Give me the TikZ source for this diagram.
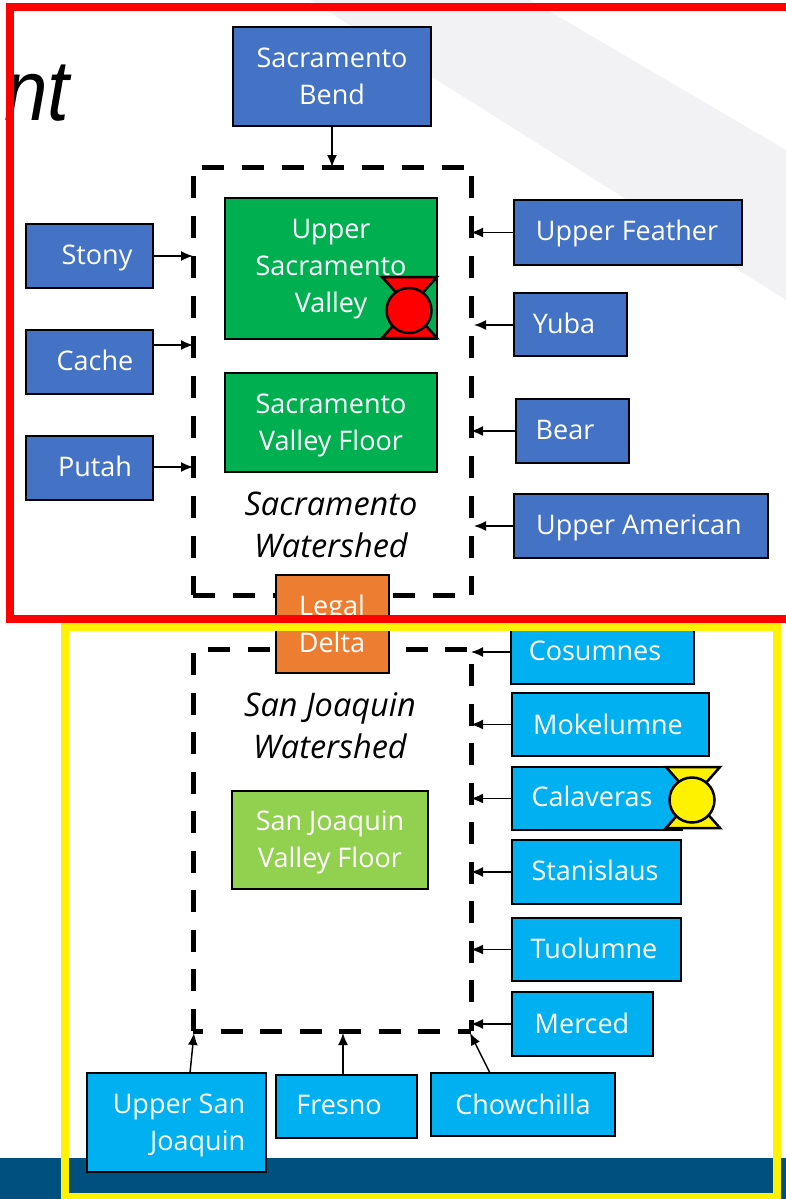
\documentclass[tikz,border=0pt]{standalone}
\usepackage{fontspec}
\setmainfont{Open Sans}
\newfontfamily\arialfont{Liberation Sans}
\usetikzlibrary{arrows.meta,calc}
\definecolor{boxblue}{HTML}{4472C4}
\definecolor{boxgreen}{HTML}{00B050}
\definecolor{boxlime}{HTML}{92D050}
\definecolor{boxorange}{HTML}{ED7D31}
\definecolor{boxcyan}{HTML}{00B0F0}
\definecolor{bandgrey}{HTML}{F2F2F4}
\definecolor{footblue}{HTML}{00507F}
\tikzset{
  flowbox/.style={draw=black,line width=1.8pt,inner sep=0pt,outer sep=0pt},
  boxtext/.style={text=white,font=\fontsize{27}{37}\selectfont,inner sep=0pt,align=center},
  wslabel/.style={text=black,font=\fontsize{32.5}{42}\selectfont\itshape,inner sep=0pt,align=center},
  arr/.style={draw=black,line width=1.5pt,-{Latex[length=12pt,width=10pt]},shorten >=0pt},
  wsedge/.style={draw=black,line width=5pt},
  hole/.style={inner sep=0pt,outer sep=0pt},
  frame/.style={line width=8pt,miter limit=10},
  bow/.style={draw=black,line width=2.5pt,line join=miter},
}
% name, x1, y1, x2, y2, fill, text x, text y, text
\newcommand{\bx}[9]{%
  \node[flowbox,fill=#6,minimum width=#4pt-#2pt,minimum height=#5pt-#3pt] (#1) at ({(#2+#4)/2},{(#3+#5)/2}) {};
  \node[boxtext] (#1-t) at (#7,#8) {#9};
}
\begin{document}
\begin{tikzpicture}[x=1pt,y=-1pt]
\useasboundingbox (0,0) rectangle (786,1199);
\fill[white] (0,0) rectangle (786,1199);
\fill[bandgrey] (310,0) -- (530,0) -- (786,150) -- (786,300) -- cycle;
\fill[footblue] (0,1158) rectangle (786,1199);
\node[inner sep=0pt,anchor=base west,font=\arialfont\itshape\fontsize{86}{86}\selectfont,text=black] (title) at (4,120) {\scalebox{.91}[1]{nt}};

\bx{bend}{233}{27}{431}{126}{boxblue}{332}{76.5}{Sacramento\\Bend}
\bx{usv}{225}{198}{437}{339}{boxgreen}{331}{269}{Upper\\Sacramento\\Valley}
\bx{svf}{225}{373}{437}{472}{boxgreen}{331}{425.5}{Sacramento\\Valley Floor}
\bx{stony}{26}{224}{153}{288}{boxblue}{97}{258}{Stony}
\bx{cache}{26}{330}{153}{394}{boxblue}{95}{360}{Cache}
\bx{putah}{26}{436}{153}{500}{boxblue}{95}{466}{Putah}
\bx{feather}{514}{200}{742}{265}{boxblue}{627}{233}{Upper Feather}
\bx{yuba}{514}{293}{627}{356}{boxblue}{564}{323}{Yuba}
\bx{bear}{516}{399}{629}{463}{boxblue}{565}{430}{Bear}
\bx{american}{514}{494}{768}{558}{boxblue}{639}{528}{Upper American}
\bx{cosumnes}{511}{620}{694}{684}{boxcyan}{595}{651}{Cosumnes}
\bx{mokelumne}{512}{693}{709}{756}{boxcyan}{608}{724}{Mokelumne}
\bx{calaveras}{512}{767}{682}{830}{boxcyan}{592}{796}{Calaveras}
\bx{stanislaus}{512}{840}{681}{904}{boxcyan}{595}{870}{Stanislaus}
\bx{tuolumne}{512}{918}{681}{981}{boxcyan}{594}{948}{Tuolumne}
\bx{merced}{512}{992}{653}{1056}{boxcyan}{582}{1023}{Merced}
\bx{usj}{87}{1073}{266}{1172}{boxcyan}{179}{1125.5}{Upper San\\\hfill Joaquin}
\bx{fresno}{276}{1075}{417}{1138}{boxcyan}{339}{1105}{Fresno}
\bx{chow}{431}{1073}{615}{1136}{boxcyan}{523}{1104}{Chowchilla}
\bx{sjf}{232}{791}{428}{889}{boxlime}{330}{842.5}{San Joaquin\\Valley Floor}

\node[wslabel] (sacl) at (331,525) {Sacramento\\Watershed};
\node[wslabel] (sjl) at (330,725.5) {San Joaquin\\Watershed};

% dashed watershed outlines
\node[hole,minimum width=278pt,minimum height=428pt] (sacw) at (332,381) {};
\node[hole,minimum width=278pt,minimum height=382pt] (sjw) at (332,840) {};
\draw[wsedge,dash pattern=on 22pt off 18pt,dash phase=31pt] (sacw.north west) -- (sacw.north east);
\draw[wsedge,dash pattern=on 22pt off 18pt,dash phase=31pt] (sacw.north west) -- (sacw.south west);
\draw[wsedge,dash pattern=on 22pt off 18pt,dash phase=31pt] (sacw.north east) -- (sacw.south east);
\draw[wsedge,dash pattern=on 22pt off 18pt] (sacw.south west) -- (sacw.south east);
\draw[wsedge,dash pattern=on 22pt off 17.5pt,dash phase=24.5pt] (sjw.north west) -- (sjw.north east);
\draw[wsedge,dash pattern=on 22pt off 17.5pt,dash phase=35.5pt] (sjw.north west) -- (sjw.south west);
\draw[wsedge,dash pattern=on 22pt off 17.5pt,dash phase=24.5pt] (sjw.north east) -- (sjw.south east);
\draw[wsedge,dash pattern=on 22pt off 17.5pt,dash phase=12pt] (sjw.south west) -- (sjw.south east);

% connectors
\coordinate (cacheout) at (153,345);
\coordinate (putahout) at (153,467);
\coordinate (yubaout) at (514,325);
\coordinate (americanout) at (514,526);
\coordinate (usjout) at (190,1073);
\coordinate (usjin) at (194,1033);
\coordinate (fresnoout) at (343,1075);
\coordinate (fresnoin) at (343,1033);
\coordinate (chowout) at (490,1073);
\coordinate (chowin) at (470,1033);
\coordinate (bearout) at (516,431);
\draw[arr] (bend.south) -- (bend.south |- sacw.north);
\draw[arr] (stony.east) -- (stony.east -| sacw.west);
\draw[arr] (cacheout) -- (cacheout -| sacw.west);
\draw[arr] (putahout) -- (putahout -| sacw.west);
\draw[arr] (feather.west) -- (feather.west -| sacw.east);
\draw[arr] (yubaout) -- ($(yubaout -| sacw.east)+(3,0)$);
\draw[arr] (bearout) -- (bearout -| sacw.east);
\draw[arr] (americanout) -- ($(americanout -| sacw.east)+(3,0)$);
\draw[arr] (cosumnes.west) -- (cosumnes.west -| sjw.east);
\draw[arr] (mokelumne.west) -- (mokelumne.west -| sjw.east);
\draw[arr] (calaveras.west) -- (calaveras.west -| sjw.east);
\draw[arr] (stanislaus.west) -- (stanislaus.west -| sjw.east);
\draw[arr] (tuolumne.west) -- (tuolumne.west -| sjw.east);
\draw[arr] (merced.west) -- (merced.west -| sjw.east);
\draw[arr] (usjout) -- (usjin);
\draw[arr] (fresnoout) -- (fresnoin);
\draw[arr] (chowout) -- (chowin);

% status markers
\draw[bow,fill=red] (382,277) -- (437,277) -- (382,338) -- (437,338) -- cycle;
\node[bow,fill=red,circle,minimum size=45pt,inner sep=0pt] (redmark) at (409,310.5) {};
\draw[bow,fill=yellow] (666,767) -- (720,767) -- (666,828) -- (720,828) -- cycle;
\node[bow,fill=yellow,circle,minimum size=45pt,inner sep=0pt] (yellowmark) at (692,800) {};

% Legal Delta sits above the dashed outlines, below the frames
\bx{delta}{276}{575}{389}{673}{boxorange}{332}{623.5}{Legal\\Delta}

% frames
\draw[frame,draw=yellow] (64.5,626.5) rectangle (776.5,1197);
\draw[frame,draw=red] (795,7) -- (10,7) -- (10,619) -- (795,619);
\end{tikzpicture}
\end{document}
